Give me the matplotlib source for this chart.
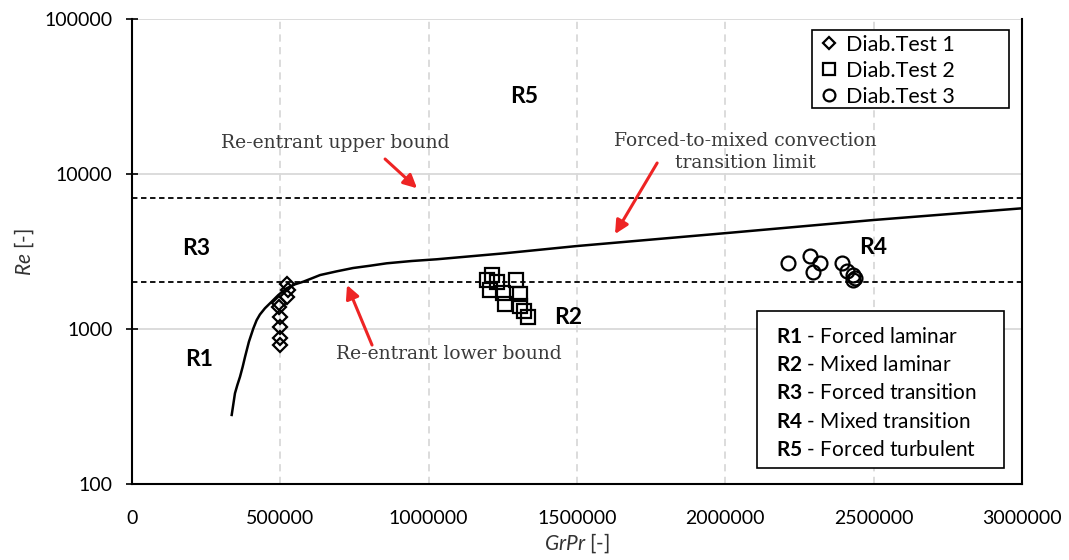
import numpy as np
import matplotlib
matplotlib.use("Agg")
import matplotlib.pyplot as plt
from matplotlib.patches import Rectangle

plt.rcParams['font.family'] = ['Lato', 'DejaVu Sans']
plt.rcParams['mathtext.fontset'] = 'custom'
plt.rcParams['mathtext.rm'] = 'Lato'
plt.rcParams['mathtext.it'] = 'Lato:italic'
plt.rcParams['mathtext.bf'] = 'Lato:bold'

# Diab. test data (GrPr, Re)
test1_grpr = [500000, 500000, 498000, 498000, 496000, 494000, 521000, 527000, 521000]
test1_re = [788, 871, 1035, 1200, 1393, 1471, 1615, 1786, 1951]

test2_grpr = [1197000, 1213000, 1230000, 1294000, 1207000, 1251000, 1308000,
              1257000, 1308000, 1321000, 1335000]
test2_re = [2070, 2230, 2010, 2070, 1786, 1706, 1680, 1449, 1406, 1306, 1195]

test3_grpr = [2211000, 2285000, 2319000, 2296000, 2393000, 2410000, 2430000,
              2437000, 2430000]
test3_re = [2654, 2958, 2679, 2343, 2654, 2377, 2229, 2123, 2070]

# forced-to-mixed convection transition limit
limit_grpr = [336000, 347000, 355000, 364000, 373000, 381000, 394000, 409000,
              420000, 431000, 448000, 465000, 493000, 521000, 549000, 577000,
              606000, 634000, 690000, 745000, 802000, 858000, 943000, 1027000,
              1252000, 1499000, 2016000, 2499000, 3000000]
limit_re = [279, 385, 435, 492, 571, 662, 828, 1010,
            1140, 1240, 1361, 1465, 1656, 1831, 1942, 2019,
            2123, 2230, 2356, 2475, 2560, 2654, 2747, 2818,
            3076, 3430, 4180, 5050, 6010]

re_upper = 7050
re_lower = 2000

x_ticks = [0, 500000, 1000000, 1500000, 2000000, 2500000, 3000000]
y_ticks = [100, 1000, 10000, 100000]

red = '#ee2424'
note_color = '#3a3a3a'

fig = plt.figure(figsize=(10.69, 5.6), dpi=100)
ax = fig.add_axes([0.1235, 0.1357, 0.8326, 0.8303])

ax.set_yscale('log')
ax.set_xlim(0, 3000000)
ax.set_ylim(100, 100000)

# grid
for yv in y_ticks[1:]:
    ax.axhline(yv, color='#d9d9d9', lw=1.3, zorder=0)
for xv in x_ticks[1:-1]:
    ax.axvline(xv, color='#d9d9d9', lw=1.3, ls=(0, (4, 3)), zorder=0)

ax.axhline(re_upper, color='black', lw=1.3, ls=(0, (3, 2)), zorder=2)
ax.axhline(re_lower, color='black', lw=1.3, ls=(0, (3, 2)), zorder=2)
ax.plot(limit_grpr, limit_re, color='black', lw=1.8, zorder=3,
        solid_joinstyle='round')

ax.plot(test1_grpr, test1_re, ls='none', marker='D', ms=7, mfc='none',
        mec='black', mew=1.6, label='Diab.Test 1', zorder=4)
ax.plot(test2_grpr, test2_re, ls='none', marker='s', ms=9.5, mfc='none',
        mec='black', mew=1.6, label='Diab.Test 2', zorder=4)
ax.plot(test3_grpr, test3_re, ls='none', marker='o', ms=10, mfc='none',
        mec='black', mew=1.6, label='Diab.Test 3', zorder=4)

# axes look
ax.spines['top'].set_visible(False)
for s in ['left', 'bottom', 'right']:
    ax.spines[s].set_color('black')
    ax.spines[s].set_linewidth(1.5)
ax.set_xticks(x_ticks)
ax.set_xticklabels([str(v) for v in x_ticks])
ax.set_yticks(y_ticks)
ax.set_yticklabels([str(v) for v in y_ticks])
ax.minorticks_off()
ax.tick_params(axis='x', length=0, labelsize=14, pad=19)
ax.tick_params(axis='y', direction='inout', length=8, width=1.2, labelsize=14, pad=10)

ax.set_xlabel(r'$\mathit{GrPr}$ [-]', fontsize=15, color='#333333', labelpad=3)
ax.set_ylabel(r'$\mathit{Re}$ [-]', fontsize=15, color='#333333', labelpad=6)

# region labels
for txt, gx, gy in [('R5', 1321000, 31850), ('R3', 216000, 3330),
                    ('R1', 226000, 640), ('R2', 1470000, 1195),
                    ('R4', 2498000, 3381)]:
    ax.text(gx, gy, txt, fontsize=16.5, fontweight='bold', ha='center', va='center')

# notes with arrows
ax.text(684000, 15850, 'Re-entrant upper bound', family='DejaVu Serif',
        fontsize=13.5, color=note_color, ha='center', va='center')
ax.text(2066000, 13870, 'Forced-to-mixed convection\ntransition limit',
        family='DejaVu Serif', fontsize=13.5, color=note_color,
        ha='center', va='center', linespacing=1.35)
ax.text(1069000, 690, 'Re-entrant lower bound', family='DejaVu Serif',
        fontsize=13.5, color=note_color, ha='center', va='center')

arrow = dict(arrowstyle='-|>', color=red, lw=2.2, mutation_scale=20,
             shrinkA=0, shrinkB=0)
ax.annotate('', xy=(960700, 8090), xytext=(853000, 12500), arrowprops=arrow)
ax.annotate('', xy=(1628000, 4100), xytext=(1770000, 11780), arrowprops=arrow)
ax.annotate('', xy=(724700, 1923), xytext=(809000, 788), arrowprops=arrow)

# legend for test series, with its own frame
ax.add_patch(Rectangle((0.764, 0.809), 0.221, 0.167, transform=ax.transAxes,
                       fc='white', ec='black', lw=1.2, zorder=5))
leg = ax.legend(loc='upper left', bbox_to_anchor=(0.757, 0.9985), fontsize=15.5,
                frameon=False, handlelength=0.8, handletextpad=0.35,
                borderpad=0.2, labelspacing=0.28, markerscale=0.85)
leg.set_zorder(6)

# regime legend box
regions = [r'$\mathbf{R1}$ - Forced laminar',
           r'$\mathbf{R2}$ - Mixed laminar',
           r'$\mathbf{R3}$ - Forced transition',
           r'$\mathbf{R4}$ - Mixed transition',
           r'$\mathbf{R5}$ - Forced turbulent']
ax.add_patch(Rectangle((0.702, 0.0344), 0.278, 0.3376, transform=ax.transAxes,
                       fc='white', ec='black', lw=1.2, zorder=5))
ax.text(0.7235, 0.338, '\n'.join(regions), transform=ax.transAxes, fontsize=15,
        ha='left', va='top', linespacing=1.52, zorder=6)

fig.savefig('out.png', dpi=100)
